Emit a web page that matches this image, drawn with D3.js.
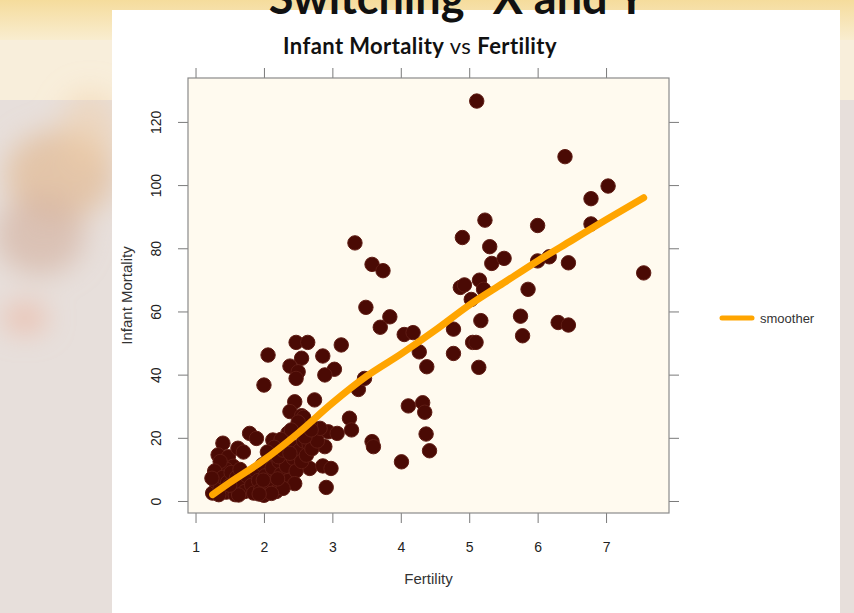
<!DOCTYPE html>
<html>
<head>
<meta charset="utf-8">
<script src="https://cdn.jsdelivr.net/npm/d3@7"></script>
<style>
  html, body { margin: 0; padding: 0; background: #ffffff; }
  svg { display: block; }
</style>
</head>
<body>
<svg id="chart" width="854" height="613"></svg>
<script>
// Fertility (births per woman) and infant mortality (deaths per 1000 live births)
const fertility = [
  5.11, 6.40, 7.03, 6.78, 6.78, 5.23, 6.00, 4.90, 5.30, 5.33, 5.51, 6.00, 6.17, 6.45, 7.55,
  4.87, 4.93, 5.15, 5.21, 5.03, 5.86, 5.17, 5.75, 5.78, 6.30, 6.45, 4.77, 5.05, 5.10, 4.77, 5.14,
  3.33, 3.58, 3.74, 3.49, 3.84, 3.70, 4.05, 4.18, 4.27, 4.38, 4.11, 4.32, 4.35, 4.37, 4.42, 4.01,
  2.06, 2.47, 2.64, 3.13, 2.55, 2.86, 2.38, 2.50, 2.47, 3.03, 2.89, 2.00, 3.38, 3.47, 2.45, 2.38,
  2.74, 3.25, 3.28, 2.94, 3.07, 2.89, 2.67, 2.86, 2.98, 2.91, 3.58, 3.60, 2.55, 2.62,
  1.40, 1.33, 1.26, 1.48, 1.62, 1.79, 1.89, 2.13, 1.55, 1.45, 1.36,
  1.25, 1.30, 1.28, 1.36, 1.40, 1.45, 1.47, 1.52, 1.57, 1.60, 1.58, 1.65, 1.68, 1.72, 1.75,
  1.82, 1.85, 1.88, 1.92, 1.95, 1.98, 2.02, 2.05, 2.08, 2.12, 2.15, 2.18, 2.22, 2.25, 2.30,
  2.33, 2.36, 2.40, 2.43, 2.47, 2.52, 2.55, 2.58, 2.62, 2.66, 2.70, 2.75, 2.78, 2.82, 2.68,
  2.58, 2.50, 2.35, 2.25, 2.15, 2.05, 1.70, 2.45, 2.28, 2.00, 2.11, 1.63, 1.99, 2.40, 2.60,
  2.69, 2.21, 2.28, 2.38, 1.24, 1.34, 1.50, 1.93, 2.20
];
const infantMortality = [
  126.6, 109.0, 99.7, 95.7, 87.7, 88.9, 87.2, 83.4, 80.5, 75.2, 76.8, 76.0, 77.3, 75.4, 72.2,
  67.6, 68.4, 69.9, 67.0, 63.8, 67.0, 57.1, 58.5, 52.3, 56.5, 55.7, 54.4, 50.2, 50.2, 46.7, 42.3,
  81.7, 74.9, 72.9, 61.3, 58.3, 55.0, 52.7, 53.3, 47.2, 42.5, 30.1, 31.1, 28.1, 21.2, 15.9, 12.4,
  46.2, 50.2, 50.2, 49.4, 45.2, 45.9, 42.7, 40.9, 38.8, 41.7, 39.9, 36.7, 35.3, 38.8, 31.4, 28.3,
  32.0, 26.2, 22.5, 21.9, 21.4, 17.2, 10.3, 11.1, 10.3, 4.3, 18.8, 17.2, 27.0, 24.0,
  18.3, 14.6, 7.7, 14.0, 16.7, 21.4, 19.8, 19.3, 11.0, 10.0, 12.5,
  2.5, 6.0, 9.5, 4.0, 7.5, 2.8, 6.0, 9.0, 4.5, 7.5, 2.0, 10.0, 5.5, 3.0, 8.0,
  5.0, 2.5, 9.5, 6.5, 3.5, 11.5, 8.0, 4.5, 14.0, 10.5, 6.0, 3.0, 12.5, 8.5, 15.0,
  11.0, 6.5, 17.5, 13.5, 9.5, 16.0, 12.5, 19.0, 14.5, 18.0, 16.5, 21.0, 19.0, 23.0, 24.0,
  26.5, 25.0, 21.5, 19.5, 17.0, 15.5, 15.5, 5.5, 4.0, 1.8, 2.4, 1.9, 6.6, 22.5, 20.3,
  22.5, 14.0, 16.1, 15.1, 7.2, 2.0, 5.0, 2.2, 7.0
];

// Smoother curve read along fertility
const smoothX = [1.25, 1.5, 2.0, 2.5, 3.0, 3.5, 4.0, 4.5, 5.0, 5.5, 6.0, 6.5, 7.0, 7.55];
const smoothY = [2.0, 5.8, 13.0, 21.5, 31.0, 39.5, 46.5, 54.0, 62.0, 69.0, 76.0, 82.5, 89.0, 96.0];

const xTicks = [1, 2, 3, 4, 5, 6, 7];
const yTicks = [0, 20, 40, 60, 80, 100, 120];

(function draw() {
  const svg = d3.select("#chart");
  const W = 854, H = 613;

  // ---- slide backdrop ----
  const defs = svg.append("defs");
  const blur = defs.append("filter").attr("id", "soft").attr("x", "-50%").attr("y", "-50%")
    .attr("width", "200%").attr("height", "200%");
  blur.append("feGaussianBlur").attr("stdDeviation", 14);

  const topGrad = defs.append("linearGradient").attr("id", "topGrad")
    .attr("x1", 0).attr("y1", 0).attr("x2", 0).attr("y2", 1);
  topGrad.append("stop").attr("offset", "0%").attr("stop-color", "#f5dc9c");
  topGrad.append("stop").attr("offset", "100%").attr("stop-color", "#f9edd0");

  svg.append("rect").attr("width", W).attr("height", H).attr("fill", "#e7dfdb");
  svg.append("rect").attr("width", W).attr("height", 40).attr("fill", "url(#topGrad)");
  svg.append("rect").attr("x", 0).attr("y", 40).attr("width", W).attr("height", 60).attr("fill", "#f8eedb");

  const haze = svg.append("g").attr("filter", "url(#soft)");
  haze.append("ellipse").attr("cx", 60).attr("cy", 175).attr("rx", 55).attr("ry", 45).attr("fill", "#e2bc98").attr("opacity", 0.75);
  haze.append("ellipse").attr("cx", 40).attr("cy", 235).attr("rx", 45).attr("ry", 40).attr("fill", "#d4b2a2").attr("opacity", 0.65);
  haze.append("ellipse").attr("cx", 25).attr("cy", 318).attr("rx", 22).attr("ry", 14).attr("fill", "#ecb8a4").attr("opacity", 0.8);
  haze.append("ellipse").attr("cx", 90).attr("cy", 130).attr("rx", 30).attr("ry", 40).attr("fill", "#f2d0a8").attr("opacity", 0.5);

  // white content panel
  svg.append("rect").attr("x", 112).attr("y", 10).attr("width", 728).attr("height", H - 10).attr("fill", "#ffffff");

  // slide heading, cut at the top edge
  svg.append("text")
    .attr("x", 466).attr("y", 14)
    .attr("text-anchor", "middle")
    .style("font-family", "Lato, 'Open Sans', sans-serif")
    .style("font-weight", "bold")
    .style("font-size", "45px")
    .attr("fill", "#111")
    .text("Switching \u201cX and Y\u201d");

  // chart heading
  const sub = svg.append("text")
    .attr("x", 420).attr("y", 54)
    .attr("text-anchor", "middle")
    .style("font-family", "Lato, 'Open Sans', sans-serif")
    .style("font-size", "22px")
    .style("letter-spacing", "0.4px")
    .attr("fill", "#111");
  sub.append("tspan").style("font-weight", "bold").text("Infant Mortality");
  sub.append("tspan").text(" vs ");
  sub.append("tspan").style("font-weight", "bold").text("Fertility");

  // ---- plot ----
  const pL = 188, pR = 669, pT = 78, pB = 513;
  const x = d3.scaleLinear().domain([0.89, 7.92]).range([pL, pR]);
  const y = d3.scaleLinear().domain([-3.8, 133.9]).range([pB, pT]);

  svg.append("rect")
    .attr("x", pL).attr("y", pT)
    .attr("width", pR - pL).attr("height", pB - pT)
    .attr("fill", "#fffaef");

  const tickStyle = g => {
    g.select(".domain").remove();
    g.selectAll(".tick line").attr("stroke", "#7a7a7a").attr("stroke-width", 1);
    g.selectAll(".tick text")
      .style("font-family", "'Liberation Sans', Arial, sans-serif")
      .style("font-size", "14px")
      .attr("fill", "#222");
  };

  svg.append("g").attr("transform", `translate(0,${pB})`)
    .call(d3.axisBottom(x).tickValues(xTicks).tickSize(10).tickPadding(19).tickFormat(d3.format("d")))
    .call(tickStyle);
  svg.append("g").attr("transform", `translate(0,${pT})`)
    .call(d3.axisTop(x).tickValues(xTicks).tickSize(10).tickFormat(""))
    .call(tickStyle);
  const yAxisG = svg.append("g").attr("transform", `translate(${pL},0)`)
    .call(d3.axisLeft(y).tickValues(yTicks).tickSize(10).tickPadding(0).tickFormat(d3.format("d")))
    .call(tickStyle);
  yAxisG.selectAll(".tick text")
    .attr("x", 0).attr("dy", null)
    .attr("text-anchor", "middle")
    .attr("transform", "translate(-32,0) rotate(-90)")
    .attr("dominant-baseline", "central");
  svg.append("g").attr("transform", `translate(${pR},0)`)
    .call(d3.axisRight(y).tickValues(yTicks).tickSize(10).tickFormat(""))
    .call(tickStyle);

  const pts = fertility.map((f, i) => ({ f, m: infantMortality[i] }));
  svg.append("g").selectAll("circle").data(pts).join("circle")
    .attr("cx", d => x(d.f))
    .attr("cy", d => y(d.m))
    .attr("r", 7.2)
    .attr("fill", "#4a0a04")
    .attr("stroke", "#5e1c14")
    .attr("stroke-width", 1);

  const smooth = smoothX.map((v, i) => [v, smoothY[i]]);
  svg.append("path")
    .datum(smooth)
    .attr("fill", "none")
    .attr("stroke", "#ffa500")
    .attr("stroke-width", 7)
    .attr("stroke-linecap", "round")
    .attr("d", d3.line().x(d => x(d[0])).y(d => y(d[1])).curve(d3.curveMonotoneX));

  svg.append("rect")
    .attr("x", pL).attr("y", pT)
    .attr("width", pR - pL).attr("height", pB - pT)
    .attr("fill", "none").attr("stroke", "#8a8a8a").attr("stroke-width", 1.2);

  // axis titles
  svg.append("text")
    .attr("x", (pL + pR) / 2).attr("y", 584)
    .attr("text-anchor", "middle")
    .style("font-family", "'Liberation Sans', Arial, sans-serif")
    .style("font-size", "15px").attr("fill", "#333")
    .text("Fertility");
  svg.append("text")
    .attr("transform", `translate(132,${(pT + pB) / 2}) rotate(-90)`)
    .attr("text-anchor", "middle")
    .style("font-family", "'Liberation Sans', Arial, sans-serif")
    .style("font-size", "15px").attr("fill", "#333")
    .text("Infant Mortality");

  // key
  const key = svg.append("g").attr("transform", "translate(722,318)");
  key.append("line").attr("x1", 0).attr("x2", 30).attr("y1", 0).attr("y2", 0)
    .attr("stroke", "#ffa500").attr("stroke-width", 5).attr("stroke-linecap", "round");
  key.append("text").attr("x", 38).attr("y", 5)
    .style("font-family", "'Liberation Sans', Arial, sans-serif")
    .style("font-size", "13px").attr("fill", "#333")
    .text("smoother");
})();
</script>
</body>
</html>
